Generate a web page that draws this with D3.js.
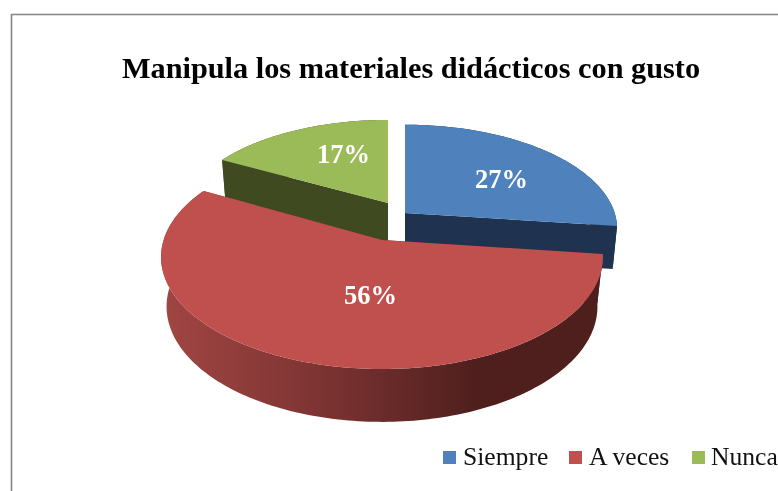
<!DOCTYPE html>
<html>
<head>
<meta charset="utf-8">
<script src="https://cdn.jsdelivr.net/npm/d3@7"></script>
<style>
  html, body { margin: 0; padding: 0; background: #fff; }
  svg { display: block; filter: blur(0.5px); }
  text { font-family: "Liberation Serif", serif; }
</style>
</head>
<body>
<div id="chart"></div>
<script>
var chartTitle = "Manipula los materiales didácticos con gusto";
var categories = ["Siempre", "A veces", "Nunca"];
var percents = [27, 56, 17];

var topColors = ["#4f81bd", "#c0504d", "#9bbb59"];
var wallColors = ["#1f3350", "url(#redWall)", "#404a20"];

// each slice is exploded by hand, Excel's 3d pie doesn't follow one simple rule
var sliceLayout = [
  {ox: 405, oy: 213, sx: 0.96, sy: 0.93, depth: 43, bsx: 0.94, bsy: 0.93, labelAngle: 54, labelR: 0.6},
  {ox: 382, oy: 240, sx: 1, sy: 1, depth: 49, bsx: 0.975, bsy: 1.03, labelAngle: 186, labelR: 0.47},
  {ox: 388, oy: 203, sx: 0.93, sy: 0.875, depth: 45, bsx: 0.91, bsy: 0.875, labelAngle: 336.8, labelR: 0.604}
];

var width = 778, height = 491;
var rx = 218.4, ry = 109.4, persp = 0.152;

var svg = d3.select("#chart").append("svg").attr("width", width).attr("height", height);

var grad = svg.append("defs").append("linearGradient")
  .attr("id", "redWall")
  .attr("gradientUnits", "userSpaceOnUse")
  .attr("x1", 161).attr("x2", 603).attr("y1", 0).attr("y2", 0);
grad.append("stop").attr("offset", "0").attr("stop-color", "#a14643");
grad.append("stop").attr("offset", "0.35").attr("stop-color", "#7e3433");
grad.append("stop").attr("offset", "0.72").attr("stop-color", "#4e1f1d");
grad.append("stop").attr("offset", "1").attr("stop-color", "#4e1f1d");

// chart frame, runs off the right and bottom of the picture
svg.append("path")
  .attr("d", "M11.5," + (height + 4) + "V14.5H" + (width + 4))
  .attr("fill", "none")
  .attr("stroke", "#868686")
  .attr("stroke-width", 1.6);

svg.append("text")
  .attr("x", 411).attr("y", 78)
  .attr("text-anchor", "middle")
  .attr("font-size", 30.3)
  .attr("font-weight", "bold")
  .attr("fill", "#000")
  .text(chartTitle);

var pie = d3.pie().sort(null);
var slices = pie(percents);

function project(a, r, layout, bottom) {
  var u = r * Math.sin(a), v = r * Math.cos(a);
  var w = 1 + persp * v;
  var sx = bottom ? layout.bsx : layout.sx;
  var sy = bottom ? layout.bsy : layout.sy;
  var oy = bottom ? layout.oy + layout.depth : layout.oy;
  return [layout.ox + rx * sx * u / w, oy - ry * sy * v / w];
}

var line = d3.line();

function arcPoints(start, end, layout, bottom) {
  var n = Math.ceil((end - start) / 0.02);
  return d3.range(n + 1).map(function(i) {
    return project(start + (end - start) * i / n, 1, layout, bottom);
  });
}

function topPath(d, layout) {
  var pts = arcPoints(d.startAngle, d.endAngle, layout, false);
  pts.unshift(project(0, 0, layout, false));
  return line(pts) + "Z";
}

function rimPath(d, layout) {
  var a = arcPoints(d.startAngle, d.endAngle, layout, false);
  var b = arcPoints(d.startAngle, d.endAngle, layout, true).reverse();
  return line(a.concat(b)) + "Z";
}

function sidePath(angle, layout) {
  return line([
    project(0, 0, layout, false),
    project(angle, 1, layout, false),
    project(angle, 1, layout, true),
    project(0, 0, layout, true)
  ]) + "Z";
}

// back slices first, red sits in front of both
[2, 0, 1].forEach(function(i) {
  var d = slices[i], layout = sliceLayout[i];
  var g = svg.append("g").attr("class", "slice");
  [d.startAngle, d.endAngle].forEach(function(angle) {
    g.append("path").attr("d", sidePath(angle, layout)).attr("fill", wallColors[i]);
  });
  g.append("path").attr("d", rimPath(d, layout)).attr("fill", wallColors[i]);
  g.append("path").attr("d", topPath(d, layout)).attr("fill", topColors[i]);
});

svg.selectAll(".value")
  .data(slices)
  .enter().append("text")
  .attr("class", "value")
  .attr("text-anchor", "middle")
  .attr("font-size", 26.5)
  .attr("font-weight", "bold")
  .attr("fill", "#fff")
  .attr("x", function(d, i) {
    var l = sliceLayout[i];
    return project(l.labelAngle * Math.PI / 180, l.labelR, l, false)[0];
  })
  .attr("y", function(d, i) {
    var l = sliceLayout[i];
    return project(l.labelAngle * Math.PI / 180, l.labelR, l, false)[1] + 9;
  })
  .text(function(d) { return d.data + "%"; });

var legendX = [443, 569, 692];
var legendTextX = [20, 20, 19];
var legend = svg.selectAll(".legend")
  .data(categories)
  .enter().append("g")
  .attr("class", "legend")
  .attr("transform", function(d, i) { return "translate(" + legendX[i] + ",451)"; });

legend.append("rect")
  .attr("width", 13).attr("height", 13)
  .attr("fill", function(d, i) { return topColors[i]; });

legend.append("text")
  .attr("x", function(d, i) { return legendTextX[i]; }).attr("y", 14)
  .attr("font-size", 25.6)
  .attr("fill", "#111")
  .text(function(d) { return d; });
</script>
</body>
</html>
